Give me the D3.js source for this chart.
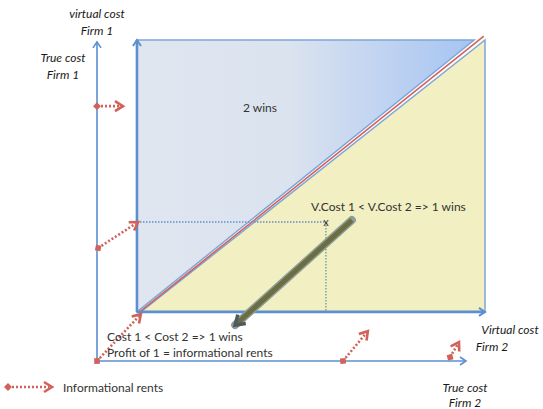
<!DOCTYPE html>
<html>
<head>
<meta charset="utf-8">
<script src="https://cdn.jsdelivr.net/npm/d3@7"></script>
<style>
  body { margin: 0; background: #fff; }
  text { font-family: Lato, "Open Sans", sans-serif; }
</style>
</head>
<body>
<div id="chart"></div>
<script>
// Diagram in "cost units": 0..100 on both axes (true cost origin at 0,0)
var trueOrigin = [0, 0];
var trueAxisEnds = [[95.1, 0], [0, 99.4]];
var virtualOrigin = [10.3, 15.3];
var virtualAxisEnds = [[100, 15.3], [10.3, 100]];

// regions
var twoWins = [[10.3, 15.3], [10.3, 100], [97.2, 100]];
var oneWins = [[11.3, 15.3], [100, 15.3], [100, 100]];
var diagonal = [[11.0, 15.3], [99.7, 101.2]];

// a bid point and its projections
var bidPoint = [59, 43.3];
// downward shift arrow
var shiftArrow = [[65.7, 43.9], [35.6, 11.2]];

// informational rents (from true cost -> virtual cost)
var rents = [
  [[0, 79.4], [6.7, 79.4]],
  [[0.3, 35.2], [10.6, 43.3]],
  [[0, 0], [11.3, 14.6]],
  [[63.4, 0], [69.8, 9.3]],
  [[91, 1.2], [93.3, 5.9]]
];

var labels = [
  {t: "virtual cost", x: 97, y: 18, it: true, a: "middle"},
  {t: "Firm 1", x: 97, y: 35, it: true, a: "middle"},
  {t: "True cost", x: 63, y: 62, it: true, a: "middle"},
  {t: "Firm 1", x: 63, y: 79, it: true, a: "middle"},
  {t: "2 wins", x: 243, y: 112, it: false, a: "start"},
  {t: "V.Cost 1 < V.Cost 2 => 1 wins", x: 311, y: 211, it: false, a: "start"},
  {t: "Cost 1 < Cost 2 => 1 wins", x: 107, y: 341, it: false, a: "start"},
  {t: "Profit of 1 = informational rents", x: 107, y: 357, it: false, a: "start"},
  {t: "Virtual cost", x: 510, y: 334, it: true, a: "middle"},
  {t: "Firm 2", x: 492, y: 351, it: true, a: "middle"},
  {t: "True cost", x: 465, y: 392, it: true, a: "middle"},
  {t: "Firm 2", x: 465, y: 407, it: true, a: "middle"},
  {t: "Informational rents", x: 63, y: 392, it: false, a: "start"}
];

var W = 543, H = 409;
var x = d3.scaleLinear().domain([0, 100]).range([97, 485]);
var y = d3.scaleLinear().domain([0, 100]).range([361, 40]);

var svg = d3.select("#chart").append("svg")
    .attr("width", W)
    .attr("height", H);

var defs = svg.append("defs");
var grad = defs.append("linearGradient")
    .attr("id", "blueGrad")
    .attr("x1", "0%").attr("x2", "100%").attr("y1", "0%").attr("y2", "0%");
grad.append("stop").attr("offset", "0%").attr("stop-color", "#dfe6f0");
grad.append("stop").attr("offset", "45%").attr("stop-color", "#dbe3ef");
grad.append("stop").attr("offset", "100%").attr("stop-color", "#a6c4f2");

var line = d3.line().x(function(d) { return x(d[0]); }).y(function(d) { return y(d[1]); });

function head(p1, p2, len, half) {
  var x1 = x(p1[0]), y1 = y(p1[1]), x2 = x(p2[0]), y2 = y(p2[1]);
  var a = Math.atan2(y2 - y1, x2 - x1);
  var bx = x2 - len * Math.cos(a), by = y2 - len * Math.sin(a);
  var nx = -Math.sin(a) * half, ny = Math.cos(a) * half;
  return "M" + (bx + nx) + "," + (by + ny) + "L" + x2 + "," + y2 + "L" + (bx - nx) + "," + (by - ny);
}

// regions
svg.append("path").datum(oneWins)
    .attr("d", function(d) { return line(d) + "Z"; })
    .attr("fill", "#f2efc3")
    .attr("stroke", "#7ea6d8")
    .attr("stroke-width", 1.5);

svg.append("path").datum(twoWins)
    .attr("d", function(d) { return line(d) + "Z"; })
    .attr("fill", "url(#blueGrad)")
    .attr("stroke", "#7ea6d8")
    .attr("stroke-width", 1.5);

svg.append("path").datum(diagonal)
    .attr("d", line)
    .attr("stroke", "#d0625a")
    .attr("stroke-width", 1.6);

// dotted projections
svg.append("path").datum([[virtualOrigin[0], bidPoint[1]], bidPoint])
    .attr("d", line)
    .attr("stroke", "#5f8fc8").attr("stroke-width", 1.3)
    .attr("stroke-dasharray", "1.5,1.5");
svg.append("path").datum([bidPoint, [bidPoint[0], virtualOrigin[1]]])
    .attr("d", line)
    .attr("stroke", "#6a9a98").attr("stroke-width", 1.3)
    .attr("stroke-dasharray", "1.5,1.5");
svg.append("text")
    .attr("x", x(bidPoint[0])).attr("y", y(bidPoint[1]) + 4)
    .attr("text-anchor", "middle")
    .attr("font-size", 11).attr("fill", "#333")
    .text("x");

// axes (true cost, thin) and virtual cost (thicker)
[trueAxisEnds, virtualAxisEnds].forEach(function(ends, k) {
  var o = k === 0 ? trueOrigin : virtualOrigin;
  ends.forEach(function(e) {
    svg.append("path").datum([o, e])
        .attr("d", line)
        .attr("stroke", "#5b8fd0")
        .attr("stroke-width", k === 0 ? 1.6 : 2.6)
        .attr("fill", "none");
    svg.append("path")
        .attr("d", head(o, e, 6, 4))
        .attr("stroke", "#5b8fd0")
        .attr("stroke-width", k === 0 ? 1.6 : 2)
        .attr("fill", "none");
  });
});

// shift arrow
svg.append("path").datum(shiftArrow)
    .attr("d", line)
    .attr("stroke", "#8d9d98").attr("stroke-width", 8).attr("stroke-linecap", "round");
svg.append("path").datum(shiftArrow)
    .attr("d", line)
    .attr("stroke", "#6c6d40").attr("stroke-width", 5);
svg.append("path")
    .attr("d", head(shiftArrow[0], shiftArrow[1], 9, 6))
    .attr("stroke", "#4f5a5e").attr("stroke-width", 3.5)
    .attr("fill", "none").attr("stroke-linejoin", "miter");

// informational rents arrows
function rentArrow(g, p1, p2) {
  var x1 = x(p1[0]), y1 = y(p1[1]), x2 = x(p2[0]), y2 = y(p2[1]);
  var a = Math.atan2(y2 - y1, x2 - x1);
  var ex = x2 - 3 * Math.cos(a), ey = y2 - 3 * Math.sin(a);
  g.append("line")
      .attr("x1", x1).attr("y1", y1).attr("x2", ex).attr("y2", ey)
      .attr("stroke", "#d0625a").attr("stroke-width", 2.6)
      .attr("stroke-dasharray", "2,2");
  g.append("rect")
      .attr("x", -2.8).attr("y", -2.8).attr("width", 5.6).attr("height", 5.6)
      .attr("transform", "translate(" + x1 + "," + y1 + ") rotate(" + (a * 180 / Math.PI + 45) + ")")
      .attr("fill", "#d0625a");
  g.append("path")
      .attr("d", head(p1, p2, 8, 5))
      .attr("stroke", "#d0625a").attr("stroke-width", 2.6)
      .attr("fill", "none");
}
var rg = svg.append("g");
rents.forEach(function(r) { rentArrow(rg, r[0], r[1]); });

// legend arrow
rentArrow(svg.append("g"), [x.invert(8), y.invert(387)], [x.invert(52), y.invert(387)]);

// labels
svg.selectAll(".lbl")
  .data(labels)
  .enter().append("text")
    .attr("class", "lbl")
    .attr("x", function(d) { return d.x; })
    .attr("y", function(d) { return d.y; })
    .attr("text-anchor", function(d) { return d.a; })
    .attr("font-style", function(d) { return d.it ? "italic" : "normal"; })
    .attr("font-size", 12)
    .attr("fill", function(d) { return d.it ? "#1a1a1a" : "#333"; })
    .text(function(d) { return d.t; });
</script>
</body>
</html>
